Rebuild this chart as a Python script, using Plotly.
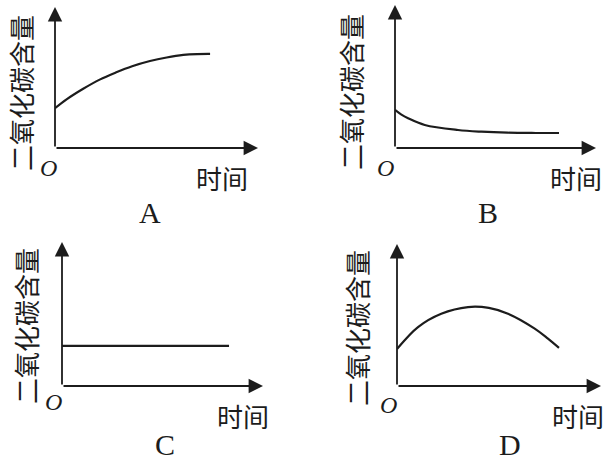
import plotly.graph_objects as go

# 二氧化碳含量随时间变化的四种情形 (A, B, C, D)
panels = ["A", "B", "C", "D"]
y_label = "二氧化碳含量"
x_label = "时间"

a_time = [0, 0.57, 1.39, 2.2, 2.99, 3.8, 4.68, 5.5, 6.32, 7.0, 7.64]
a_co2 = [2.82, 3.45, 4.2, 4.85, 5.35, 5.8, 6.17, 6.42, 6.6, 6.66, 6.67]

b_time = [0, 0.3, 0.65, 1.48, 3.13, 4.3, 5.6, 7.0, 8.16]
b_co2 = [2.66, 2.35, 2.08, 1.61, 1.26, 1.14, 1.07, 1.05, 1.05]

c_time = [0, 8.31]
c_co2 = [2.78, 2.78]

d_time = [0, 1.03, 2.17, 3.48, 4.5, 5.44, 6.75, 7.4, 7.94]
d_co2 = [2.6, 4.15, 5.09, 5.56, 5.5, 5.09, 4.04, 3.33, 2.68]

series = [(a_time, a_co2), (b_time, b_co2), (c_time, c_co2), (d_time, d_co2)]

W, H = 616, 464
INK = "#1c1c1c"
CJK = "Noto Sans CJK SC"
SERIF = "Liberation Serif"

# pixel box of each panel: (x at origin, x at arrow tip, y at origin, y at arrow tip)
boxes = [(55, 258, 148, 7), (395, 596, 148, 5), (62, 263, 386, 242), (397, 601, 386, 244)]
# label positions: y label (x, y), "O", "时间", panel letter
ylab_pos = [(20, 93), (350, 92), (25, 326), (356, 328)]
o_pos = [(48, 168), (385, 168), (53, 402), (388, 405)]
t_pos = [(222, 178), (576, 177), (243, 415), (578, 415)]
letter_pos = [(150, 212), (488, 212), (165, 444), (510, 444)]


def px(x):
    return x / W


def py(y):
    return 1 - y / H


fig = go.Figure()
layout = dict(width=W, height=H, margin=dict(l=0, r=0, t=0, b=0),
              paper_bgcolor="white", plot_bgcolor="white", showlegend=False)
annotations = []


def label(pos, text, family, size, angle=0):
    return dict(x=px(pos[0]), y=py(pos[1]), xref="paper", yref="paper", text=text,
                textangle=angle, showarrow=False, xanchor="center", yanchor="middle",
                font=dict(family=family, size=size, color=INK))


for i, (name, (t, v)) in enumerate(zip(panels, series)):
    n = "" if i == 0 else str(i + 1)
    x0, x1, y0, y1 = boxes[i]
    layout["xaxis" + n] = dict(domain=[px(x0), px(x1)], range=[0, 10], visible=False,
                               anchor="y" + n)
    layout["yaxis" + n] = dict(domain=[py(y0), py(y1)], range=[0, 10], visible=False,
                               anchor="x" + n)
    fig.add_trace(go.Scatter(x=t, y=v, mode="lines", xaxis="x" + n, yaxis="y" + n,
                             line=dict(color=INK, width=2.2, shape="spline", smoothing=1.0),
                             hoverinfo="skip"))
    # axis arrows
    for tip in [(10, 0), (0, 10)]:
        annotations.append(dict(x=tip[0], y=tip[1], ax=0, ay=0, xref="x" + n, yref="y" + n,
                                axref="x" + n, ayref="y" + n, text="", showarrow=True,
                                arrowhead=2, arrowsize=1.6, arrowwidth=1.8,
                                arrowcolor=INK, standoff=0, startstandoff=0))
    annotations.append(label(ylab_pos[i], y_label, CJK, 26, -90))
    annotations.append(label(o_pos[i], "<i>O</i>", SERIF, 24))
    annotations.append(label(t_pos[i], x_label, CJK, 26))
    annotations.append(label(letter_pos[i], name, SERIF, 30))

layout["annotations"] = annotations
fig.update_layout(**layout)

# drop the default body margin so the figure fills the window exactly
fig.write_html("out.html", config={"displayModeBar": False},
               post_script="document.body.style.margin = '0';")
